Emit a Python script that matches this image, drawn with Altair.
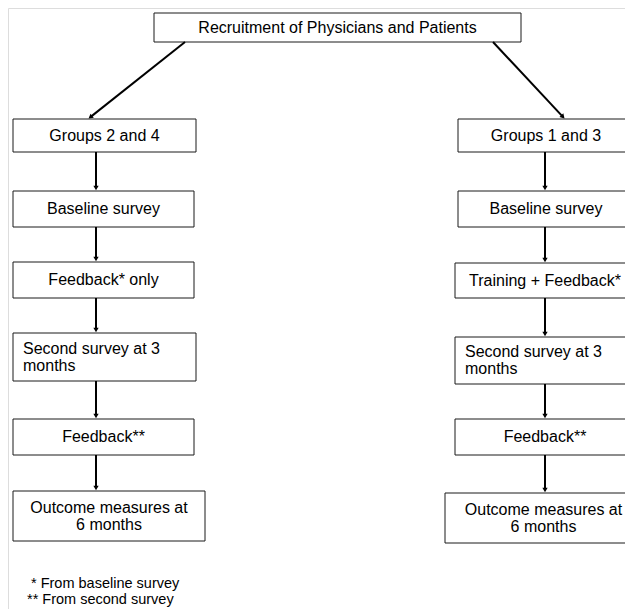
import altair as alt
import pandas as pd
import math

# ---- text content ----
top_label = "Recruitment of Physicians and Patients"
left_labels = [["Groups 2 and 4"], ["Baseline survey"], ["Feedback* only"],
               ["Second survey at 3", "months"], ["Feedback**"],
               ["Outcome measures at", "6 months"]]
right_labels = [["Groups 1 and 3"], ["Baseline survey"], ["Training + Feedback*"],
                ["Second survey at 3", "months"], ["Feedback**"],
                ["Outcome measures at", "6 months"]]
left_aligned_step = 3  # "Second survey" boxes have left-aligned text
footnotes = ["* From baseline survey", "** From second survey"]

# ---- layout (page pixels) ----
top_box = [154, 521, 13, 42]
left_x0 = [13, 13, 13, 13, 13, 13]
left_x1 = [196, 194, 194, 196, 194, 205]
left_y0 = [119, 191, 262, 333, 419, 491]
left_y1 = [152, 227, 298, 381, 455, 541]
right_x0 = [458, 458, 455, 455, 455, 445]
right_x1 = [634, 634, 635, 635, 635, 642]
right_y0 = [119, 191, 263, 337, 419, 493]
right_y1 = [152, 227, 298, 384, 455, 543]
left_arrow_x = 96
right_arrow_x = 545
diag_left = [185, 42, 88, 119]
diag_right = [493, 42, 565, 119]
foot_x = [31, 27]
foot_y = [584, 600]
text_indent = 10
line_gap = 17
FONT = "Liberation Sans"
FS = 16
FS_FOOT = 14.5

boxes, texts_c, texts_l, rules, heads = [], [], [], [], []
boxes.append(dict(x=top_box[0], x2=top_box[1], y=top_box[2], y2=top_box[3]))
texts_c.append(dict(x=(top_box[0] + top_box[1]) / 2, y=(top_box[2] + top_box[3]) / 2, t=top_label))

for labels, X0, X1, Y0, Y1, ax in [
    (left_labels, left_x0, left_x1, left_y0, left_y1, left_arrow_x),
    (right_labels, right_x0, right_x1, right_y0, right_y1, right_arrow_x),
]:
    for i, lines in enumerate(labels):
        boxes.append(dict(x=X0[i], x2=X1[i], y=Y0[i], y2=Y1[i]))
        cy = (Y0[i] + Y1[i]) / 2
        n = len(lines)
        for j, ln in enumerate(lines):
            yy = cy + (j - (n - 1) / 2) * line_gap
            if i == left_aligned_step:
                texts_l.append(dict(x=X0[i] + text_indent, y=yy, t=ln))
            else:
                texts_c.append(dict(x=(X0[i] + min(X1[i], 625)) / 2 + (X1[i] - min(X1[i], 625)) / 2, y=yy, t=ln))
        if i > 0:
            rules.append(dict(x=ax, x2=ax, y=Y1[i - 1], y2=Y0[i] - 3))
            heads.append(dict(x=ax, y=Y0[i] - 3, a=0))

for (x0, y0, x1, y1) in [diag_left, diag_right]:
    L = math.hypot(x1 - x0, y1 - y0)
    ux, uy = (x1 - x0) / L, (y1 - y0) / L
    hx, hy = x1 - 3 * ux, y1 - 3 * uy
    rules.append(dict(x=x0, x2=hx, y=y0, y2=hy))
    ang = math.degrees(math.atan2(-ux, uy)) % 360
    heads.append(dict(x=hx, y=hy, a=ang))

foot = [dict(x=foot_x[k], y=foot_y[k], t=footnotes[k]) for k in range(2)]

# chart area = page pixels 8..625 (x) and 8..609 (y)
xs = alt.Scale(domain=[8, 625], nice=False, zero=False)
ys = alt.Scale(domain=[8, 609], nice=False, zero=False, reverse=True)

base_x = alt.X("x:Q", scale=xs, axis=None)
base_y = alt.Y("y:Q", scale=ys, axis=None)

rect = alt.Chart(pd.DataFrame(boxes)).mark_rect(
    fill="white", stroke="#1a1a1a", strokeWidth=1, clip=True
).encode(x=base_x, x2="x2:Q", y=base_y, y2="y2:Q")

rule = alt.Chart(pd.DataFrame(rules)).mark_rule(
    color="black", strokeWidth=2
).encode(x=base_x, x2="x2:Q", y=base_y, y2="y2:Q")

head = alt.Chart(pd.DataFrame(heads)).mark_point(
    shape="triangle-down", filled=True, color="black", size=28, opacity=1
).encode(x=base_x, y=base_y, angle=alt.Angle("a:Q", scale=None))

tc = alt.Chart(pd.DataFrame(texts_c)).mark_text(
    font=FONT, fontSize=FS, color="black", align="center", baseline="middle"
).encode(x=base_x, y=base_y, text="t:N")

tl = alt.Chart(pd.DataFrame(texts_l)).mark_text(
    font=FONT, fontSize=FS, color="black", align="left", baseline="middle"
).encode(x=base_x, y=base_y, text="t:N")

tf = alt.Chart(pd.DataFrame(foot)).mark_text(
    font=FONT, fontSize=FS_FOOT, color="black", align="left", baseline="middle"
).encode(x=base_x, y=base_y, text="t:N")

chart = alt.layer(rect, rule, head, tc, tl, tf).properties(
    width=617, height=601, padding=0, autosize=alt.AutoSizeParams(type="none")
).configure_view(strokeWidth=0).configure(background="white")

chart.save("out.html", embed_options={"renderer": "svg", "actions": False})
